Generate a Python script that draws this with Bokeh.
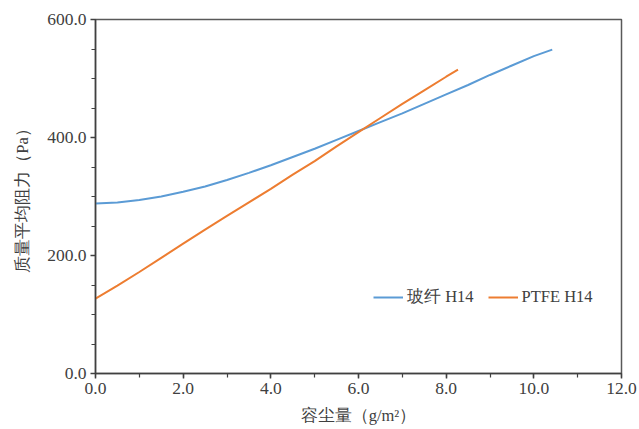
from bokeh.plotting import figure
from bokeh.models import Range1d, FixedTicker, PrintfTickFormatter, Legend, LegendItem
from bokeh.embed import file_html
from bokeh.resources import INLINE

# data
glass_x = [0, 0.5, 1, 1.5, 2, 2.5, 3, 3.5, 4, 4.5, 5, 5.5, 6, 6.5, 7, 7.5, 8, 8.5, 9, 9.5, 10, 10.42]
glass_y = [288, 290, 294, 300, 308, 317, 328, 340, 353, 367, 381, 396, 411, 426, 441, 457, 473, 489, 506, 522, 538, 549]
ptfe_x = [0, 0.5, 1, 1.5, 2, 2.5, 3, 3.5, 4, 4.5, 5, 5.5, 6, 6.5, 7, 7.5, 8, 8.27]
ptfe_y = [127, 149, 172, 196, 220, 244, 267, 290, 313, 337, 360, 385, 409, 433, 457, 480, 503, 515]
series_names = ["玻纤 H14", "PTFE H14"]
x_ticks = [0, 2, 4, 6, 8, 10, 12]
y_ticks = [0, 200, 400, 600]

FONT = "Liberation Serif"
TXT = "#404040"

p = figure(width=639, height=429, output_backend="svg", toolbar_location=None,
           x_range=Range1d(0, 12), y_range=Range1d(0, 600),
           min_border_left=95, min_border_right=18, min_border_top=19, min_border_bottom=56)
p.grid.visible = False
p.outline_line_color = "#595959"
p.outline_line_width = 1.5
p.background_fill_color = "white"
p.border_fill_color = "white"

r1 = p.line(glass_x, glass_y, line_color="#5B9BD5", line_width=2)
r2 = p.line(ptfe_x, ptfe_y, line_color="#ED7D31", line_width=2)

for ax in (p.xaxis[0], p.yaxis[0]):
    ax.axis_line_color = "#404040"
    ax.axis_line_width = 1.5
    ax.major_tick_line_color = "#404040"
    ax.minor_tick_line_color = "#404040"
    ax.major_tick_line_width = 1.5
    ax.minor_tick_line_width = 1.2
    ax.major_tick_in = 0
    ax.major_tick_out = 5
    ax.minor_tick_in = 0
    ax.minor_tick_out = 4
    ax.major_label_text_font = FONT
    ax.major_label_text_font_size = "17.5px"
    ax.major_label_text_color = TXT
    ax.axis_label_text_font = FONT
    ax.axis_label_text_font_size = "16.5px"
    ax.axis_label_text_font_style = "normal"
    ax.axis_label_text_color = TXT
    ax.formatter = PrintfTickFormatter(format="%.1f")

p.xaxis[0].ticker = FixedTicker(ticks=x_ticks, minor_ticks=list(range(0, 13)))
p.yaxis[0].ticker = FixedTicker(ticks=y_ticks, minor_ticks=list(range(0, 601, 50)))
p.xaxis[0].axis_label = "容尘量（g/m²）"
p.yaxis[0].axis_label = "质量平均阻力（Pa）"
p.xaxis[0].major_label_standoff = 4
p.xaxis[0].axis_label_standoff = 9
p.yaxis[0].major_label_standoff = 4
p.yaxis[0].axis_label_standoff = 12

legend = Legend(items=[LegendItem(label=series_names[0], renderers=[r1]),
                       LegendItem(label=series_names[1], renderers=[r2])],
                location=(268, 55), orientation="horizontal")
legend.background_fill_alpha = 0
legend.border_line_alpha = 0
legend.label_text_font = FONT
legend.label_text_font_size = "16.5px"
legend.label_text_color = TXT
legend.glyph_width = 30
legend.spacing = 14
legend.label_standoff = 4
p.add_layout(legend)

open("out.html", "w").write(file_html(p, INLINE))
